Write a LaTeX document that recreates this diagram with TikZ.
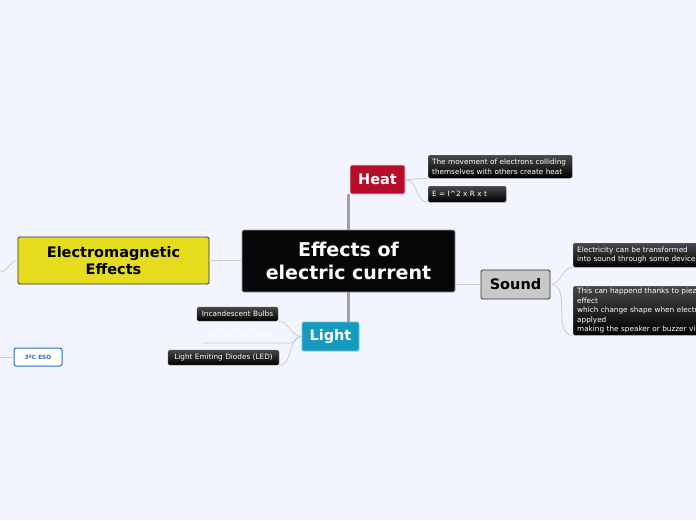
\documentclass[tikz,border=0pt]{standalone}
\usepackage{fontspec}
\setmainfont{DejaVu Sans}
\definecolor{bgc}{RGB}{242,245,254}
\definecolor{centralc}{RGB}{6,6,8}
\definecolor{heatc}{RGB}{183,12,42}
\definecolor{soundc}{RGB}{200,200,200}
\definecolor{lightc}{RGB}{22,155,192}
\definecolor{emc}{RGB}{230,220,30}
\definecolor{esoc}{RGB}{30,110,210}
\definecolor{mainline}{RGB}{160,160,160}
\definecolor{thinline}{RGB}{200,204,216}
\tikzset{
  topicbox/.style={rounded corners=1.5pt, inner sep=0pt, align=center, font=\bfseries},
  notebox/.style={rounded corners=1.5pt, inner xsep=4pt, inner ysep=0pt, align=left,
    top color=black!72, bottom color=black, draw=black!60, line width=0.3pt,
    text=white, font=\fontsize{7.3}{9.6}\selectfont, anchor=north west},
  mainconn/.style={draw=mainline, line width=2.6pt},
  thinconn/.style={draw=thinline, line width=0.8pt},
}
\begin{document}
\begin{tikzpicture}[x=1pt,y=-1pt]
\fill[bgc] (0,0) rectangle (696,520);
\useasboundingbox (0,0) rectangle (696,520);
\begin{scope}
\clip (0,0) rectangle (696,520);
% central
\node[topicbox, fill=centralc, draw=black!40, line width=0.6pt, text=white,
  minimum width=213pt, minimum height=62pt,
  font=\bfseries\fontsize{19}{23}\selectfont] (central) at (348.5,261) {Effects of\\electric current};
% Heat
\node[topicbox, fill=heatc, draw=white!85!heatc, line width=0.6pt, text=white,
  minimum width=55pt, minimum height=29pt,
  font=\bfseries\fontsize{14.5}{17}\selectfont] (heat) at (377.5,179.5) {Heat};
% Sound
\node[topicbox, fill=soundc, draw=black!80, line width=0.8pt, text=black,
  minimum width=69pt, minimum height=29pt,
  font=\bfseries\fontsize{14.5}{17}\selectfont] (sound) at (515.5,284.5) {Sound};
% Light
\node[topicbox, fill=lightc, draw=lightc!60!white, line width=0.8pt, text=white,
  minimum width=57pt, minimum height=29pt,
  font=\bfseries\fontsize{14.5}{17}\selectfont] (light) at (330.5,336.5) {Light};
% Electromagnetic
\node[topicbox, fill=emc, draw=black!80, line width=0.8pt, text=black,
  minimum width=191pt, minimum height=47pt,
  font=\bfseries\fontsize{14.5}{16.5}\selectfont] (em) at (113.5,260.5) {Electromagnetic\\Effects};
% 3ºC ESO
\node[topicbox, fill=white, draw=esoc, line width=1pt, text=esoc,
  rounded corners=2.5pt, minimum width=48pt, minimum height=18pt,
  font=\bfseries\fontsize{5.8}{7}\selectfont] (eso) at (38,357) {3ºC ESO};

% notes
\node[notebox, text width=136pt, minimum height=23pt] (h1) at (428,155) {The movement of electrons colliding\\themselves with others create heat};
\node[notebox, text width=70pt, minimum height=16pt] (h2) at (428,186) {E = I\^{}2 x R x t};
\node[notebox, text width=150pt, minimum height=24pt] (s1) at (573,243) {Electricity can be transformed\\into sound through some devices};
\node[notebox, text width=190pt, minimum height=49pt] (s2) at (573,286) {This can happend thanks to piezoelectric\\effect\\which change shape when electricity is\\applyed\\making the speaker or buzzer vibrate};
\node[notebox, anchor=center, align=center, text width=73pt, minimum height=14pt] (l1) at (237.5,314) {Incandescent Bulbs};
\node[anchor=center, inner sep=0pt, text=white, font=\fontsize{7.3}{8}\selectfont] (l2) at (241,336) {Fluorescent Tubes};
\node[notebox, anchor=center, align=center, text width=103pt, minimum height=15pt] (l3) at (223.5,357.5) {Light Emiting Diodes (LED)};

\coordinate (l2line) at (203,343);
\coordinate (l2end) at (290,343);
\coordinate (emleft) at (0,272);
\coordinate (esoleft) at (0,357);
\end{scope}

\begin{scope}
\clip (0,0) rectangle (696,520);
\path[mainconn] (central.north) -- (central.north |- heat.south);
\path[mainconn] (central.south) -- (central.south |- light.north);
\path[thinconn] (central.east |- sound.west) -- (sound.west);
\path[thinconn] (em.east) -- (em.east -| central.west);
\path[thinconn] (heat.east) to[out=0,in=180] (h1.south west);
\path[thinconn] (heat.east) to[out=0,in=180] (h2.south west);
\path[thinconn] (sound.east) to[out=0,in=180] (s1.south west);
\path[thinconn] (sound.east) to[out=0,in=180] (s2.south west);
\path[thinconn] (light.west) to[out=180,in=0] (l1.south east);
\path[thinconn] (light.west) to[out=180,in=0] (l2end) -- (l2line);
\path[thinconn] (light.west) to[out=180,in=0] (l3.south east);
\path[thinconn] (em.west) to[out=180,in=0] (emleft);
\path[thinconn] (esoleft) -- (eso.west);
\end{scope}
\end{tikzpicture}
\end{document}
